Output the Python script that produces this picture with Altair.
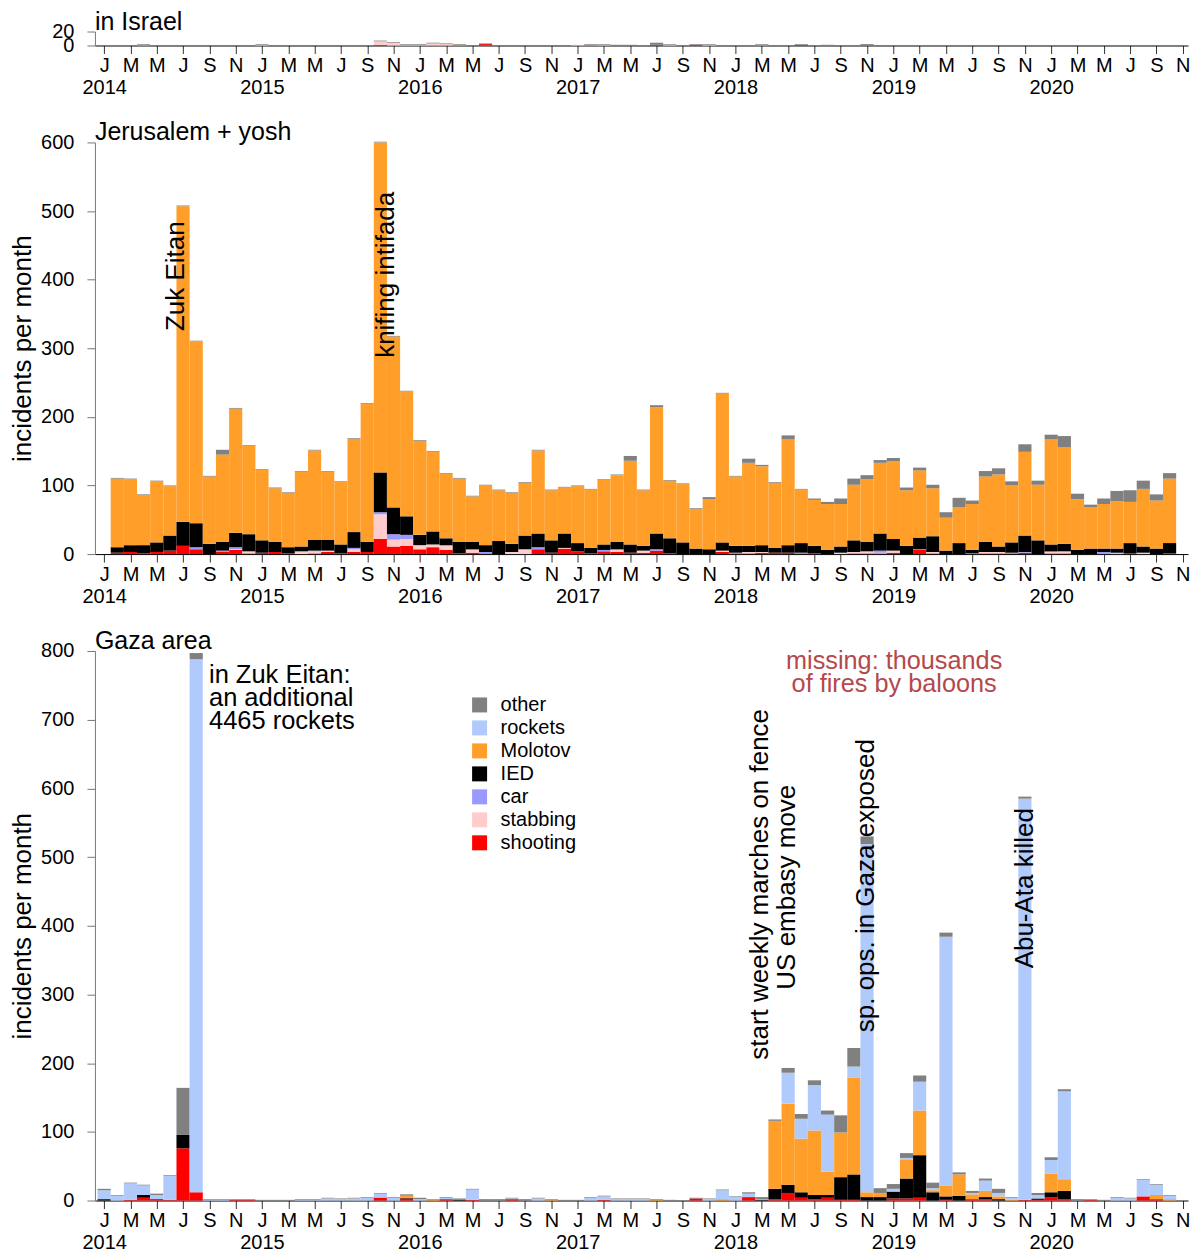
import altair as alt
import pandas as pd

FONT = "Liberation Sans"
FIRST_YEAR = 2014
N_MONTHS = 82                     # month index 0 = Jan 2014 ... 81 = Oct 2020
TICK_MONTHS = list(range(0, 83, 2))
MONTH_LETTERS = ["J", "F", "M", "A", "M", "J", "J", "A", "S", "O", "N", "D"]

CATEGORIES = ["shooting", "stabbing", "car", "IED", "Molotov", "rockets", "other"]
CAT_COLORS = ["#ff0000", "#ffcccc", "#9999ff", "#000000", "#ff9e28", "#b0cbfb", "#808080"]
LEGEND_ORDER = CATEGORIES[::-1]
LEGEND_COLORS = CAT_COLORS[::-1]

# ---------------- in Israel ----------------
isr_shooting = [0,0,0,0,0,0,0,0,0,0,0,0,
                0,0,0,0,0,0,0,0,0,1,0,0,
                0,0,0,0,0,2,0,0,0,0,0,0,
                0,0,0,0,0,0,1,0,0,1,0,0,
                0,0,0,0,0,1,0,0,0,0,0,0,
                0,0,0,0,0,0,0,0,0,0,0,0,
                0,0,0,0,0,0,0,0,0,0]
isr_stabbing = [0,0,0,0,0,0,0,0,0,0,0,0,
                1,0,0,0,0,0,0,0,0,5,4,1,
                1,3,2,0,0,0,0,0,0,0,0,0,
                1,0,1,0,0,0,0,1,0,0,1,0,
                0,0,0,0,0,0,0,0,0,0,0,0,
                0,0,0,0,0,0,0,0,0,0,0,0,
                0,0,0,0,0,0,0,0,0,0]
isr_car = [0,0,0,0,0,0,0,0,0,0,0,0,
           0,0,0,0,0,0,0,0,0,0,0,0,
           0,0,0,0,0,0,0,0,0,0,0,0,
           0,0,0,0,0,0,0,0,0,0,0,0,
           0,0,1,0,0,0,0,0,0,0,0,0,
           0,0,0,0,0,0,0,0,0,0,0,0,
           0,0,0,0,0,0,0,0,0,0]
isr_ied = [0] * N_MONTHS
isr_molotov = [0,0,0,1,0,0,0,0,0,0,0,0,
               0,0,0,0,0,0,0,0,0,0,0,0,
               0,0,0,1,0,0,0,0,0,0,0,0,
               0,1,0,0,0,0,0,0,0,0,0,0,
               0,0,0,0,0,0,0,0,0,0,0,0,
               0,0,0,0,0,0,0,0,0,0,0,0,
               0,0,0,0,0,0,0,0,0,0]
isr_rockets = [0] * N_MONTHS
isr_other = [0,0,0,1,0,0,0,0,0,0,0,0,
             1,0,0,0,0,0,0,0,0,1,1,1,
             1,1,1,1,0,1,0,0,0,0,0,0,
             0,1,1,1,1,0,3,1,0,1,1,0,
             0,0,1,0,0,1,0,1,0,0,2,0,
             0,0,0,0,0,0,0,0,0,0,0,0,
             0,0,0,0,0,0,0,0,0,0]

# ---------------- Jerusalem + yosh ----------------
jer_shooting = [0,2,3,1,3,5,12,7,0,3,6,1,
                2,3,1,0,1,3,1,3,3,22,11,12,
                7,10,6,1,2,1,0,0,0,7,2,8,
                4,1,4,3,2,2,5,1,0,0,0,3,
                1,1,2,2,2,1,1,0,0,1,1,1,
                2,0,6,1,0,0,0,1,1,1,2,0,
                1,1,0,0,0,0,1,0,0,1]
jer_stabbing = [0,0,0,0,0,0,0,0,0,0,1,3,
                0,0,0,4,3,2,0,4,0,36,10,10,
                6,4,6,0,4,0,0,3,7,0,0,1,
                0,0,0,3,0,3,0,0,0,0,0,2,
                0,2,1,0,0,0,0,0,2,2,3,1,
                3,0,0,2,0,0,0,2,2,0,0,0,
                2,3,0,0,0,1,0,2,0,0]
jer_car = [0,0,0,0,0,0,0,3,0,2,3,0,
           0,0,0,0,1,0,0,2,0,3,8,6,
           0,0,1,0,1,2,0,0,0,3,0,0,
           0,0,2,1,0,0,2,0,0,0,0,0,
           1,0,0,0,0,1,0,0,0,0,0,3,
           0,0,1,0,0,0,1,0,0,1,1,0,
           1,0,0,0,3,1,0,0,0,0]
jer_ied = [0,8,10,12,14,22,35,35,15,13,21,25,
           18,15,9,7,16,16,13,23,15,58,39,27,
           15,19,10,17,11,10,19,12,20,20,18,21,
           12,8,8,11,12,7,23,22,17,8,7,12,
           10,9,10,7,11,14,11,6,9,17,14,25,
           17,12,17,23,5,16,5,15,8,15,24,20,
           10,11,6,8,5,6,15,9,8,15]
jer_molotov = [0,100,96,73,89,72,460,265,98,127,181,129,
               103,78,79,109,130,99,91,136,201,481,249,182,
               137,116,94,92,66,87,74,74,77,121,73,67,
               83,85,94,97,122,81,184,84,85,58,73,217,
               101,121,115,95,154,78,67,67,62,81,91,103,
               113,81,98,70,48,52,67,95,105,83,122,81,
               153,141,74,60,65,69,60,84,70,94]
jer_rockets = [0] * N_MONTHS
jer_other = [0,1,1,1,1,1,1,1,1,7,1,1,
             1,1,1,1,1,1,1,1,1,1,1,1,
             1,1,1,1,1,1,1,1,1,1,1,1,
             1,1,1,1,7,1,3,1,1,1,3,1,
             1,6,2,1,6,1,2,3,8,9,6,4,
             5,4,4,5,8,14,5,8,9,6,11,6,
             7,16,8,4,8,15,17,12,9,8]

# ---------------- Gaza area ----------------
gaza_shooting = [0,0,1,4,1,1,76,12,0,0,1,1,
                 0,0,0,0,0,0,0,0,0,4,0,3,
                 0,0,2,0,1,0,0,2,0,0,0,0,
                 0,0,1,0,0,0,0,0,0,3,0,0,
                 0,5,0,2,11,4,2,4,1,1,0,0,
                 3,3,4,0,1,0,2,2,0,0,1,1,
                 5,2,0,1,0,0,0,6,2,0]
gaza_stabbing = [0] * N_MONTHS
gaza_car = [0] * N_MONTHS
gaza_ied = [2,0,0,4,1,0,20,0,0,0,0,0,
            0,0,0,0,0,0,0,0,0,0,0,1,
            0,0,0,1,0,0,0,0,0,0,0,0,
            0,0,0,0,0,0,0,0,0,0,0,0,
            0,0,1,15,12,8,6,4,33,37,5,5,
            10,29,62,12,5,7,0,3,2,0,0,2,
            7,12,0,0,0,0,0,0,0,0]
gaza_molotov = [0,0,0,0,0,0,0,0,0,0,0,0,
                0,0,0,0,0,0,0,0,0,1,0,3,
                0,1,0,0,0,0,0,0,0,0,1,0,
                0,0,0,0,0,0,1,0,0,0,0,2,
                0,0,1,99,118,78,94,34,65,141,7,6,
                0,27,65,3,16,31,7,9,4,1,0,0,
                27,17,0,0,0,0,0,0,6,2]
gaza_rockets = [13,7,24,14,6,35,0,776,1,1,0,0,
                0,0,0,1,1,3,2,3,4,5,4,0,
                2,0,2,0,15,0,0,1,0,3,0,0,
                0,4,5,2,2,2,0,0,0,0,2,13,
                5,5,0,0,45,29,66,83,0,16,507,0,
                4,3,42,3,362,0,2,15,5,3,584,5,
                20,128,0,0,0,4,3,24,15,5]
gaza_other = [2,1,1,1,2,1,68,9,1,1,1,1,
              1,1,1,1,1,1,1,1,1,1,1,2,
              2,1,1,2,1,2,2,1,2,1,1,1,
              1,1,1,1,1,1,1,1,0,1,1,1,
              1,2,3,2,7,7,7,6,25,27,11,7,
              7,7,9,8,6,3,3,3,6,1,3,3,
              4,3,2,1,1,1,1,1,1,1]

# ---------------- annotations ----------------
jer_note_month = [5.47, 21.4]
jer_note_value = [325, 286]
jer_note_text = ["Zuk Eitan", "knifing intifada"]

gaza_vnote_month = [49.9, 51.95, 57.93, 70.0]
gaza_vnote_value = [205, 307, 245, 338]
gaza_vnote_text = ["start weekly marches on fence", "US embasy move",
                   "sp. ops. in Gaza exposed", "Abu-Ata killed"]

gaza_hnote_month = [7.97]
gaza_hnote_value = [753]
gaza_hnote_text = ["in Zuk Eitan:\nan additional\n4465 rockets"]

missing_month = [60.06]
missing_value = [774]
missing_text = ["missing: thousands\nof fires by baloons"]

PX_PER_UNIT = 0.687
PLOT_W = 1094


def stack_frame(series):
    rows = []
    for m in range(N_MONTHS):
        base = 0
        for cat in CATEGORIES:
            v = series[cat][m]
            if v:
                rows.append({"m0": m - 0.5, "m1": m + 0.5, "cat": cat,
                             "y0": base, "y1": base + v, "n": v})
            base += v
    return pd.DataFrame(rows)


month_expr = "[" + ",".join("'%s'" % s for s in MONTH_LETTERS) + "]"
label_expr = ("datum.value % 12 == 0 ? [{m}[0], '' + ({y} + floor(datum.value / 12))]"
              " : [{m}[datum.value % 12]]").format(m=month_expr, y=FIRST_YEAR)

x_scale = alt.Scale(domain=[-0.7, 82.4], nice=False, zero=False)
x_axis = alt.Axis(values=TICK_MONTHS, labelExpr=label_expr, title=None, grid=False,
                  labelFontSize=20, labelFont=FONT, labelColor="black",
                  labelLineHeight=22, labelPadding=2, labelAngle=0,
                  labelFlush=False, labelOverlap=False,
                  tickSize=8, tickColor="#333", domainColor="#000")


def y_axis(vals, title):
    if title:
        return alt.Axis(values=vals, title=title, titleFontSize=26, titleFont=FONT,
                        titleFontWeight="normal", titleColor="black", titlePadding=5,
                        labelFontSize=20, labelFont=FONT, labelColor="black",
                        labelPadding=13, tickSize=8, tickColor="#777",
                        domainColor="#777", grid=False, labelOverlap=False)
    return alt.Axis(values=vals, title=None,
                    labelFontSize=20, labelFont=FONT, labelColor="black",
                    labelPadding=13, tickSize=8, tickColor="#777",
                    domainColor="#777", grid=False, labelOverlap=False)


def panel(series, ymax, yvals, ytitle, title, show_legend, notes_fn=None):
    df = stack_frame(series)
    y_scale = alt.Scale(domain=[0, ymax], nice=False, zero=True)
    yax = y_axis(yvals, ytitle)
    if show_legend:
        legend = alt.Legend(title=None, orient="none", legendX=375, legendY=44,
                            symbolType="square", symbolSize=225, symbolStrokeWidth=0,
                            labelFontSize=20, labelFont=FONT, labelColor="black",
                            labelOffset=11, rowPadding=3)
    else:
        legend = None
    color = alt.Color("cat:N", scale=alt.Scale(domain=LEGEND_ORDER, range=LEGEND_COLORS),
                      legend=legend)
    bars = alt.Chart(df).mark_bar().encode(
        x=alt.X("m0:Q", scale=x_scale, axis=x_axis),
        x2="m1:Q",
        y=alt.Y("y0:Q", scale=y_scale, axis=yax),
        y2="y1:Q",
        color=color,
    )
    ttl = alt.Chart(pd.DataFrame({"t": [title]})).mark_text(
        align="left", baseline="alphabetic", fontSize=25, font=FONT, color="black"
    ).encode(text="t:N", x=alt.value(0), y=alt.value(-2))
    layers = [bars, ttl]
    if notes_fn:
        layers += notes_fn(y_scale, yax)
    height = round(ymax * PX_PER_UNIT)
    return alt.layer(*layers).properties(width=PLOT_W, height=height)


def note_layer(months, values, texts, y_scale, yax, size, **mark_kw):
    d = pd.DataFrame({"m0": months, "y0": values, "txt": texts})
    return alt.Chart(d).mark_text(fontSize=size, font=FONT, **mark_kw).encode(
        x=alt.X("m0:Q", scale=x_scale, axis=x_axis),
        y=alt.Y("y0:Q", scale=y_scale, axis=yax),
        text="txt:N")


def jer_notes(y_scale, yax):
    return [note_layer(jer_note_month, jer_note_value, jer_note_text, y_scale, yax, 26,
                       angle=270, align="left", baseline="middle", color="black")]


def gaza_notes(y_scale, yax):
    vert = note_layer(gaza_vnote_month, gaza_vnote_value, gaza_vnote_text, y_scale, yax, 26,
                      angle=270, align="left", baseline="middle", color="black")
    horiz = note_layer(gaza_hnote_month, gaza_hnote_value, gaza_hnote_text, y_scale, yax,
                       25.5, align="left", baseline="alphabetic", lineBreak="\n",
                       lineHeight=23, color="black")
    miss = note_layer(missing_month, missing_value, missing_text, y_scale, yax, 25.3,
                      align="center", baseline="alphabetic", lineBreak="\n",
                      lineHeight=23, color="#b5484a")
    return [vert, horiz, miss]


israel = dict(zip(CATEGORIES, [isr_shooting, isr_stabbing, isr_car, isr_ied,
                               isr_molotov, isr_rockets, isr_other]))
jerusalem = dict(zip(CATEGORIES, [jer_shooting, jer_stabbing, jer_car, jer_ied,
                                  jer_molotov, jer_rockets, jer_other]))
gaza = dict(zip(CATEGORIES, [gaza_shooting, gaza_stabbing, gaza_car, gaza_ied,
                             gaza_molotov, gaza_rockets, gaza_other]))

p1 = panel(israel, 20, [0, 20], None, "in Israel", False)
p2 = panel(jerusalem, 600, list(range(0, 601, 100)), "incidents per month",
           "Jerusalem + yosh", False, jer_notes)
p3 = panel(gaza, 800, list(range(0, 801, 100)), "incidents per month",
           "Gaza area", True, gaza_notes)

chart = alt.vconcat(p1, p2, p3, spacing=23).resolve_scale(
    color="independent"
).properties(
    padding={"left": 1, "top": 1, "right": 2, "bottom": 5},
    background="white",
).configure(font=FONT).configure_view(stroke=None)

chart.save("out.html", embed_options={"renderer": "svg", "actions": False})
